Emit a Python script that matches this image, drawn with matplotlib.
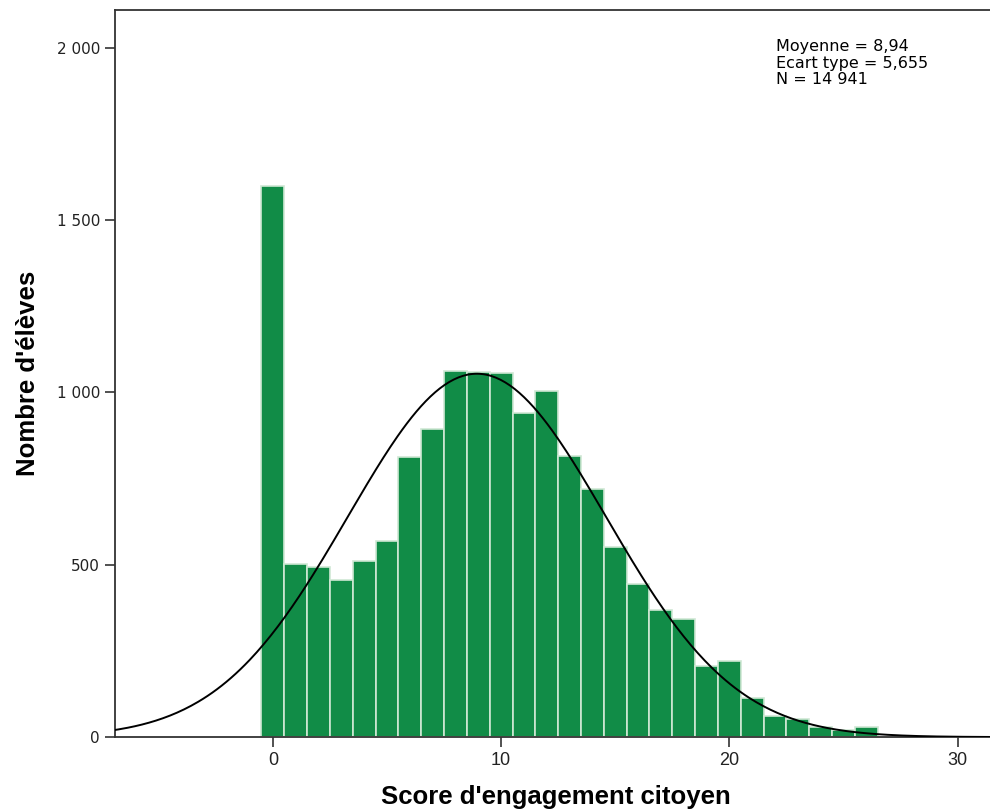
import numpy as np
import matplotlib
matplotlib.use("Agg")
from matplotlib import pyplot as plt

# histogram of civic engagement scores (bins centred on integers)
scores = list(range(0, 27))
counts = [1598, 503, 492, 457, 512, 569, 812, 893, 1061, 1058, 1056, 939, 1003,
          815, 720, 552, 445, 370, 344, 205, 220, 113, 61, 52, 29, 20, 29]
mean_val = 8.94
sd_val = 5.655
n_total = 14941

x_ticks = [0, 10, 20, 30]
y_ticks = [0, 500, 1000, 1500, 2000]
y_labels = ["0", "500", "1 000", "1 500", "2 000"]

fig = plt.figure(figsize=(9.9, 8.1), dpi=100)
ax = fig.add_axes([0.1165, 0.090, 0.89, 0.898])

ax.bar(scores, counts, width=1.0, color="#118c47", edgecolor="#cfe8d4",
       linewidth=1.2, zorder=2)

# normal curve from the summary statistics
xs = np.linspace(-8, 33, 400)
pdf = np.exp(-0.5 * ((xs - mean_val) / sd_val) ** 2) / (sd_val * np.sqrt(2 * np.pi))
ax.plot(xs, n_total * pdf, color="black", linewidth=1.4, zorder=3)

ax.set_xlim(-6.9, 31.7)
ax.set_ylim(0, 2110)
ax.set_xticks(x_ticks)
ax.set_xticklabels([str(t) for t in x_ticks], fontsize=13,
                   family="Liberation Sans", color="#222222")
ax.set_yticks(y_ticks)
ax.set_yticklabels(y_labels, fontsize=11, family="DejaVu Sans", color="#222222")
ax.tick_params(axis="both", length=7, width=1.2, color="#333333", pad=4)

for side in ["left", "top", "bottom"]:
    ax.spines[side].set_color("#333333")
    ax.spines[side].set_linewidth(1.3)
ax.spines["right"].set_visible(False)

ax.set_xlabel("Score d'engagement citoyen", fontsize=18.5, fontweight="bold",
              family="Liberation Sans", labelpad=11)
ax.set_ylabel("Nombre d'élèves", fontsize=18.5, fontweight="bold",
              family="Liberation Sans", labelpad=12)

ax.text(0.750, 0.960, "Moyenne = 8,94\nEcart type = 5,655\nN = 14 941",
        transform=ax.transAxes, fontsize=11.5, va="top", ha="left",
        linespacing=1.15, family="DejaVu Sans")

fig.savefig("out.png", dpi=100)
